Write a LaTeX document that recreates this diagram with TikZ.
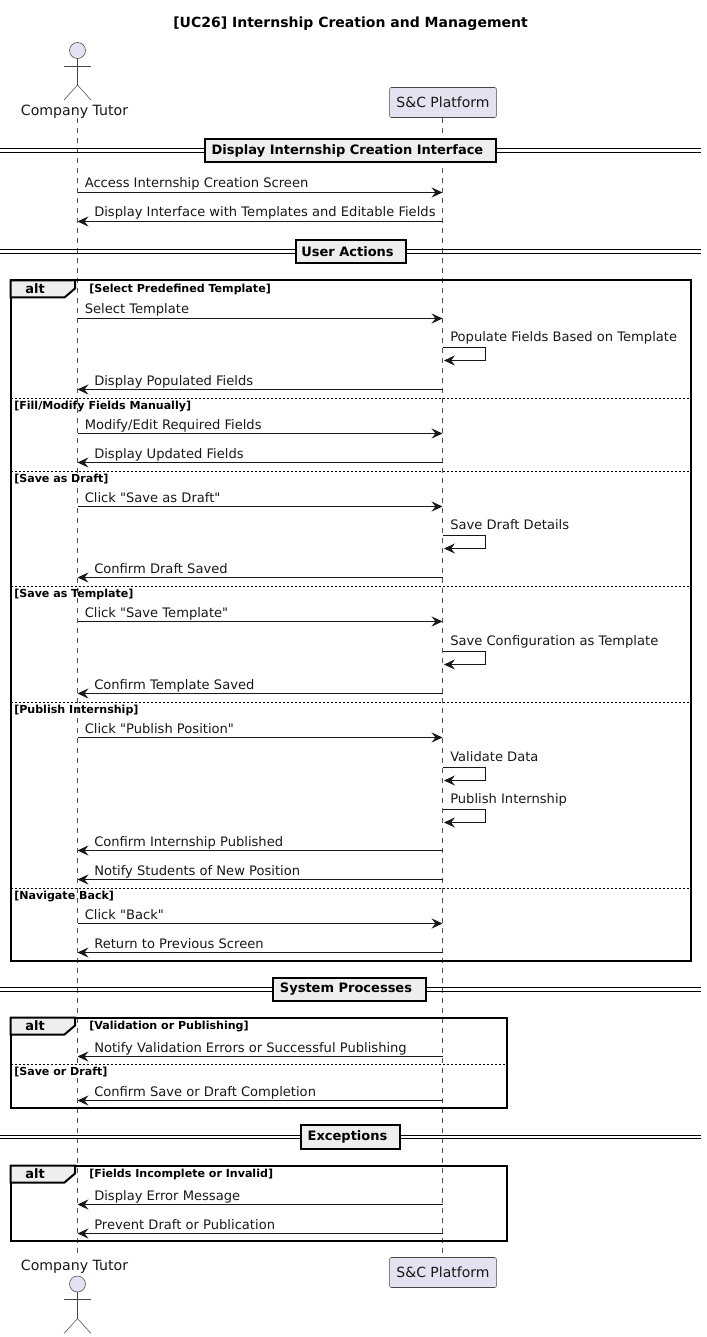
\documentclass[tikz,border=0pt]{standalone}
\usepackage{fontspec}
\setmainfont{DejaVu Sans}
\newfontfamily\plainfont{DejaVu Sans}
\usetikzlibrary{arrows.meta}
\definecolor{ink}{HTML}{181818}
\definecolor{actorfill}{HTML}{E2E2F0}
\definecolor{framefill}{HTML}{EEEEEE}
\tikzset{
  msg/.style={draw=ink,line width=0.75pt,-{Stealth[length=8.25pt,width=7.6pt,inset=3pt]}},
  selfmsg/.style={msg,rounded corners=0pt},
  msgtext/.style={inner sep=0pt,anchor=base west,font=\plainfont\fontsize{9.82pt}{12pt}\selectfont,text=ink},
  condtext/.style={inner sep=0pt,anchor=base west,font=\plainfont\bfseries\fontsize{8.3pt}{10pt}\selectfont,text=black},
  lifeline/.style={draw=ink!75,line width=0.4pt,dash pattern=on 3.75pt off 3.75pt},
  actorline/.style={draw=ink!80,line width=0.4pt},
  actorhead/.style={circle,draw=ink!80,line width=0.4pt,fill=actorfill,minimum size=12pt,inner sep=0pt},
  partbox/.style={draw=ink!80,line width=0.4pt,fill=actorfill,rounded corners=1.5pt,minimum width=80.2pt,minimum height=22.5pt,inner sep=0pt,font=\fontsize{10.5pt}{12pt}\selectfont,text=ink},
  actortext/.style={inner sep=0pt,font=\fontsize{10.6pt}{12pt}\selectfont,text=ink},
  divline/.style={draw=black,line width=0.75pt},
  divbox/.style={draw=black,line width=1.5pt,fill=framefill,inner sep=0pt,minimum height=17.5pt,font=\bfseries\fontsize{9.75pt}{12pt}\selectfont,text=black},
  framebox/.style={draw=black,line width=1.5pt},
  tabshape/.style={draw=black,line width=1.5pt,fill=framefill},
  elsedash/.style={draw=black,line width=0.75pt,dash pattern=on 1.5pt off 1.5pt},
  alttext/.style={inner sep=0pt,font=\bfseries\fontsize{9.75pt}{12pt}\selectfont,text=black},
}
\newcommand{\msgR}[2]{%
  \coordinate (t#1) at (77.5,{#1+0.5}); \coordinate (p#1) at (442.5,{#1+0.5});
  \draw[msg] (t#1) -- (p#1);
  \node[msgtext] (m#1) at (84.5,{#1-4}) {#2};}
\newcommand{\msgL}[2]{%
  \coordinate (t#1) at (77.5,{#1+0.5}); \coordinate (p#1) at (442.5,{#1+0.5});
  \draw[msg] (p#1) -- (t#1);
  \node[msgtext] (m#1) at (94,{#1-4}) {#2};}
\newcommand{\msgS}[2]{%
  \coordinate (s#1) at (443,{#1+0.5}); \coordinate (e#1) at (444,{#1+13.5});
  \draw[selfmsg] (s#1) -- (485.5,{#1+0.5}) -- (485.5,{#1+13.5}) -- (e#1);
  \node[msgtext] (m#1) at (450,{#1-5.5}) {#2};}
\newcommand{\divider}[5]{% name, center x, y, width, text
  \coordinate (#1a) at (0,{#3-1.6}); \coordinate (#1b) at (701,{#3-1.6});
  \coordinate (#1c) at (0,{#3+1.6}); \coordinate (#1d) at (701,{#3+1.6});
  \draw[divline] (#1a) -- (#1b);
  \draw[divline] (#1c) -- (#1d);
  \node[divbox,minimum width=#4*0.75pt] (#1) at (#2,#3) {\raisebox{-1.1pt}{#5}\hspace*{4.5pt}};}
\newcommand{\altframe}[5]{% name, right, top, bottom, condition
  \draw[framebox] (10.5,#3) rectangle (#2,#4);
  \draw[tabshape] (10.5,#3) -- (75,#3) -- (75,{#3+8}) -- (64.5,{#3+17}) -- (10.5,{#3+17}) -- cycle;
  \node[alttext] (#1t) at (35,{#3+8.5}) {alt};
  \node[condtext] (#1c) at (89,{#3+12}) {#5};}
\newcommand{\elsebar}[4]{% name, right, y, condition
  \coordinate (#1a) at (10.5,#3); \coordinate (#1b) at (#2,#3);
  \draw[elsedash] (#1a) -- (#1b);
  \node[condtext] (#1c) at (14,{#3+11}) {#4};}
\begin{document}
\begin{tikzpicture}[x=0.75pt,y=-0.75pt]
\useasboundingbox (0,0) rectangle (706,1337);
\fill[white] (0,0) rectangle (706,1337);

\node[inner sep=0pt,font=\bfseries\fontsize{10.5pt}{12pt}\selectfont,text=black] (title) at (350.5,24) {[UC26] Internship Creation and Management};

% lifelines
\node[partbox] (ptop) at (443,102.5) {S\&C Platform};
\node[partbox] (pbot) at (443,1272.5) {S\&C Platform};
\coordinate (ltA) at (77.5,118); \coordinate (ltB) at (77.5,1256);
\draw[lifeline] (ltA) -- (ltB);
\draw[lifeline] (ptop.south -| 442.5,0) -- (pbot.north -| 442.5,0);

% top actor
\node[actorhead] (htop) at (77.5,50.5) {};
\coordinate (at1) at (64,66); \coordinate (at2) at (91,66);
\coordinate (at3) at (77.5,85); \coordinate (at4) at (64,100); \coordinate (at5) at (91,100);
\draw[actorline] (htop.south) -- (at3);
\draw[actorline] (at1) -- (at2);
\draw[actorline] (at4) -- (at3) -- (at5);
\node[actortext] (ttop) at (74.5,111.5) {Company Tutor};

% bottom actor
\node[actortext] (tbot) at (74.5,1266.5) {Company Tutor};
\node[actorhead] (hbot) at (77.5,1284) {};
\coordinate (ab1) at (64,1299.5); \coordinate (ab2) at (91,1299.5);
\coordinate (ab3) at (77.5,1318.5); \coordinate (ab4) at (64,1333.5); \coordinate (ab5) at (91,1333.5);
\draw[actorline] (hbot.south) -- (ab3);
\draw[actorline] (ab1) -- (ab2);
\draw[actorline] (ab4) -- (ab3) -- (ab5);

% section 1
\divider{dA}{350.5}{150.5}{291}{Display Internship Creation Interface}
\msgR{192}{Access Internship Creation Screen}
\msgL{221}{Display Interface with Templates and Editable Fields}

% section 2
\divider{dB}{350.5}{251.5}{110}{User Actions}
\altframe{fA}{691}{280.5}{960.5}{[Select Predefined Template]}
\msgR{318}{Select Template}
\msgS{347}{Populate Fields Based on Template}
\msgL{389}{Display Populated Fields}
\elsebar{eA}{691}{398}{[Fill/Modify Fields Manually]}
\msgR{433}{Modify/Edit Required Fields}
\msgL{462}{Display Updated Fields}
\elsebar{eB}{691}{471}{[Save as Draft]}
\msgR{506}{Click "Save as Draft"}
\msgS{535}{Save Draft Details}
\msgL{577}{Confirm Draft Saved}
\elsebar{eC}{691}{586}{[Save as Template]}
\msgR{621}{Click "Save Template"}
\msgS{651}{Save Configuration as Template}
\msgL{693}{Confirm Template Saved}
\elsebar{eD}{691}{702}{[Publish Internship]}
\msgR{737}{Click "Publish Position"}
\msgS{767}{Validate Data}
\msgS{809}{Publish Internship}
\msgL{850}{Confirm Internship Published}
\msgL{879}{Notify Students of New Position}
\elsebar{eE}{691}{888}{[Navigate Back]}
\msgR{923}{Click "Back"}
\msgL{952}{Return to Previous Screen}

% section 3
\divider{dC}{349}{989.5}{153}{System Processes}
\altframe{fB}{507}{1017.5}{1108}{[Validation or Publishing]}
\msgL{1056}{Notify Validation Errors or Successful Publishing}
\elsebar{eF}{507}{1064}{[Save or Draft]}
\msgL{1100}{Confirm Save or Draft Completion}

% section 4
\divider{dD}{350.5}{1137}{99}{Exceptions}
\altframe{fC}{507}{1165.5}{1241}{[Fields Incomplete or Invalid]}
\msgL{1204}{Display Error Message}
\msgL{1233}{Prevent Draft or Publication}
\end{tikzpicture}
\end{document}
